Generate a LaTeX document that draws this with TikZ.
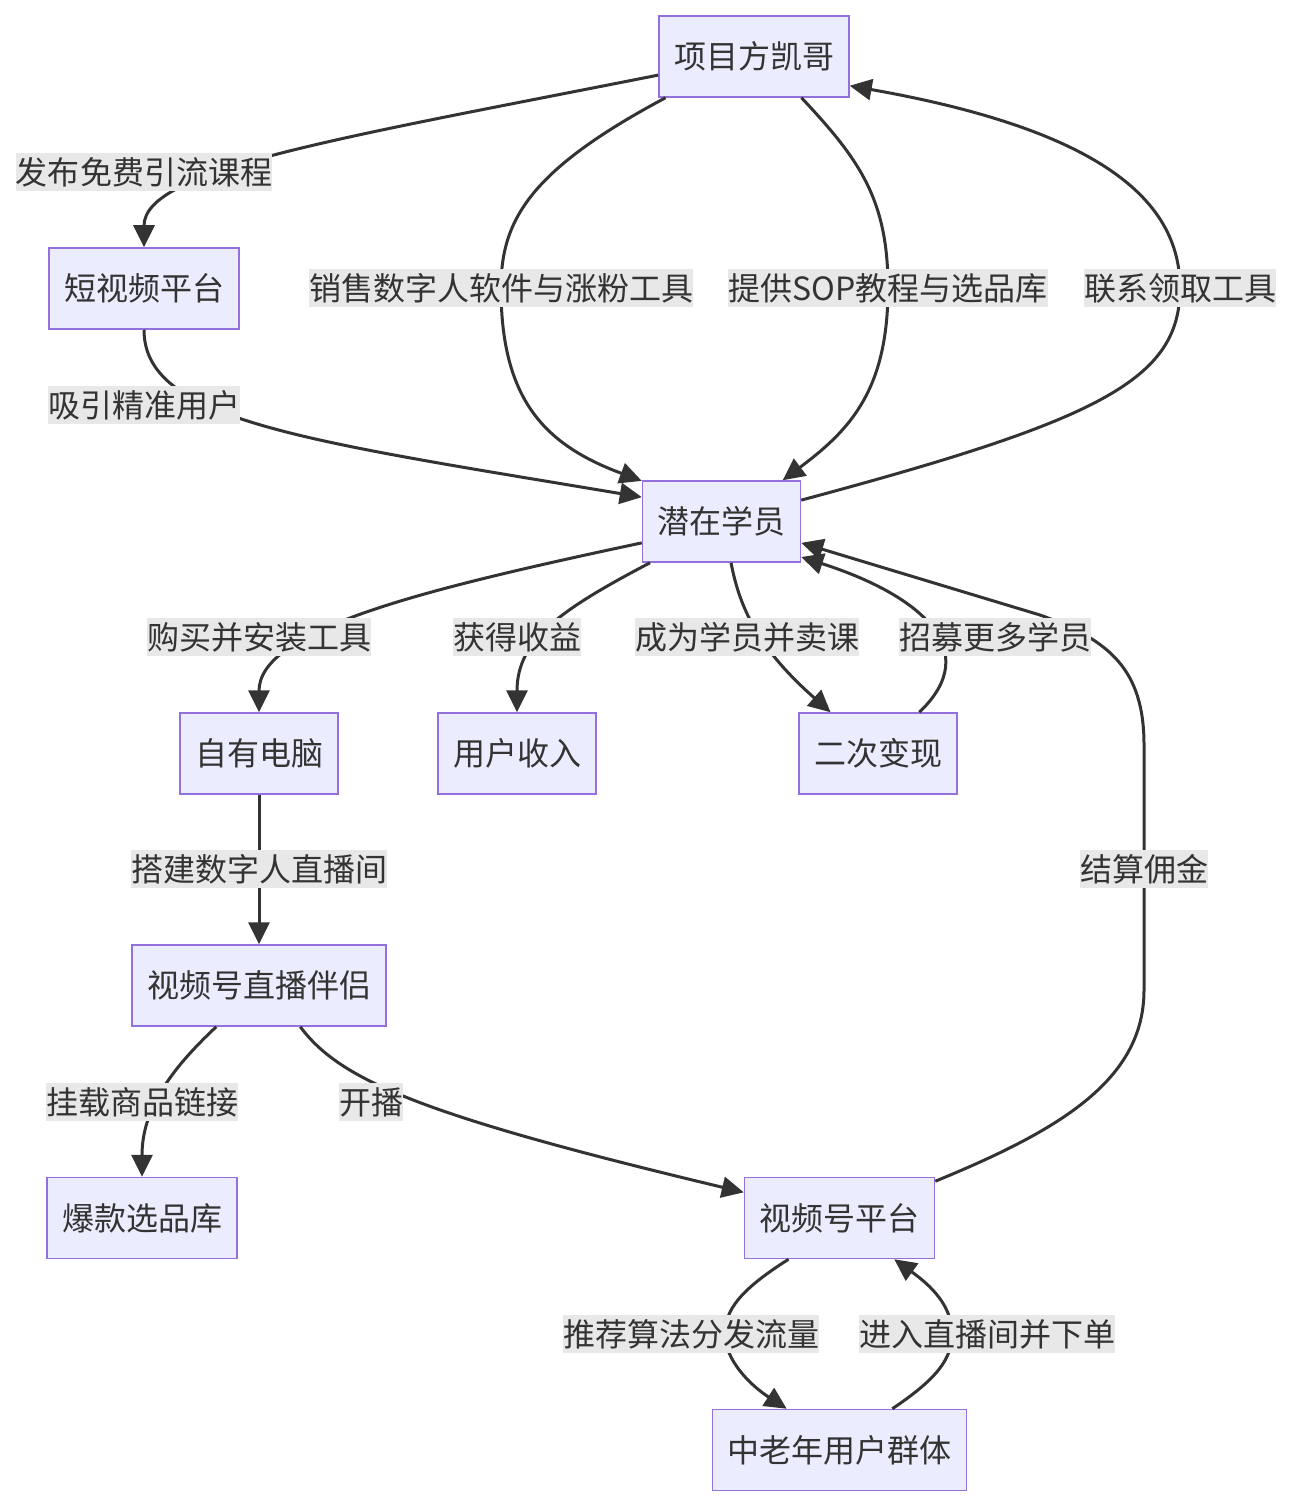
\documentclass[tikz,border=0pt]{standalone}
\usepackage{fontspec}
\setmainfont{Noto Sans CJK SC}
\usepackage{xcolor}
\usetikzlibrary{arrows.meta}
\definecolor{boxfill}{HTML}{ECECFF}
\definecolor{boxline}{HTML}{9370DB}
\definecolor{ink}{HTML}{333333}
\definecolor{lblfill}{HTML}{E8E8E8}
\tikzset{>={Triangle[length=11pt,width=10.5pt]}}
\tikzset{
  box/.style={draw=boxline, fill=boxfill, line width=0.75pt, text=ink,
    inner xsep=7.5pt, minimum height=40.5pt, font=\fontsize{16}{19}\selectfont},
  lbl/.style={fill=lblfill, text=ink, inner sep=0pt, minimum height=19pt,
    font=\fontsize{16}{19}\selectfont},
  edge/.style={->, draw=ink, line width=1.5pt},
}

\begin{document}
\begin{tikzpicture}[x=0.5pt, y=-0.5pt]
  \useasboundingbox (0,0) rectangle (1292,1508);
  \fill[white] (0,0) rectangle (1292,1508);

  % Nodes
  \node[box] (xmf)  at (754,56.5)    {项目方凯哥};
  \node[box] (dsp)  at (144,288.5)   {短视频平台};
  \node[box] (qzxy) at (721.5,521.5) {潜在学员};
  \node[box] (zydn) at (259,753.5)   {自有电脑};
  \node[box] (yhsr) at (517,753.5)   {用户收入};
  \node[box] (ecbx) at (878,753.5)   {二次变现};
  \node[box] (zbbl) at (259,985.5)   {视频号直播伴侣};
  \node[box] (bkxp) at (142,1218)    {爆款选品库};
  \node[box] (sph)  at (839.5,1218)  {视频号平台};
  \node[box] (zlny) at (839.5,1450)  {中老年用户群体};

  % Upper part
  \draw[edge] (xmf.191) .. controls (330,140) and (144,170) .. (dsp.north)
    node[lbl] at (144,172) {发布免费引流课程};
  \draw[edge] (dsp.south) .. controls (144,420) and (300,440) .. (qzxy.163)
    node[lbl] at (144,405) {吸引精准用户};
  \draw[edge] (xmf.205) .. controls (530,170) and (501,220) .. (501,288)
    .. controls (501,400) and (545,445) .. (qzxy.153)
    node[lbl] at (501,288) {销售数字人软件与涨粉工具};
  \draw[edge] (xmf.319) .. controls (860,160) and (888,200) .. (888,288)
    .. controls (888,390) and (850,430) .. (qzxy.34)
    node[lbl] at (888,288) {提供SOP教程与选品库};
  \draw[edge] (qzxy.15) .. controls (1100,420) and (1180,380) .. (1180,288)
    .. controls (1180,200) and (1100,130) .. (xmf.343)
    node[lbl] at (1180,288) {联系领取工具};

  % Middle part
  \draw[edge] (qzxy.195) .. controls (420,590) and (259,630) .. (zydn.north)
    node[lbl] at (259,637) {购买并安装工具};
  \draw[edge] (qzxy.210) .. controls (560,610) and (517,640) .. (yhsr.north)
    node[lbl] at (517,637) {获得收益};
  \draw[edge] (qzxy.283) .. controls (740,610) and (760,650) .. (ecbx.139)
    node[lbl] at (747,637) {成为学员并卖课};
  \draw[edge] (sph.21) .. controls (1060,1130) and (1144,1080) .. (1144,990)
    -- (1144,745) .. controls (1144,670) and (1110,640) .. (1040,615) -- (qzxy.345)
    node[lbl] at (1144,869) {结算佣金};
  \draw[edge] (ecbx.45) .. controls (985,650) and (920,595) .. (qzxy.336)
    node[lbl] at (995,637) {招募更多学员};

  % Lower part
  \draw[edge] (zydn.south) -- (zbbl.north)
    node[lbl] at (259,869) {搭建数字人直播间};
  \draw[edge] (zbbl.224) .. controls (170,1070) and (142,1110) .. (bkxp.north)
    node[lbl] at (142,1102) {挂载商品链接};
  \draw[edge] (zbbl.315) .. controls (340,1080) and (420,1115) .. (sph.165)
    node[lbl] at (371,1102) {开播};
  \draw[edge] (sph.219) .. controls (740,1290) and (725,1310) .. (725,1334)
    .. controls (725,1360) and (750,1385) .. (zlny.142)
    node[lbl] at (691,1334) {推荐算法分发流量};
  \draw[edge] (zlny.38) .. controls (935,1380) and (952,1360) .. (952,1334)
    .. controls (952,1305) and (930,1285) .. (sph.323)
    node[lbl] at (987,1334) {进入直播间并下单};

\end{tikzpicture}
\end{document}
